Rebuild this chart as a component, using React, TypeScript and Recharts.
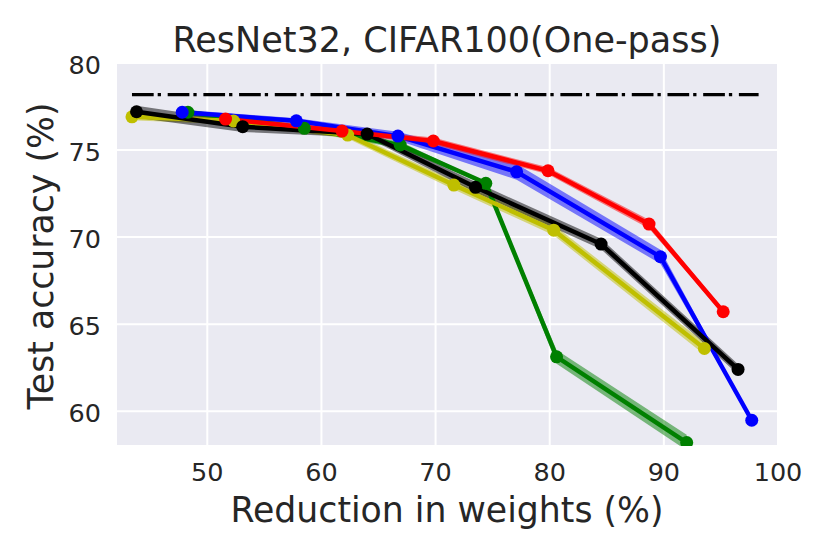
import React from "react";
import { ComposedChart, Line, Area, XAxis, YAxis, CartesianGrid } from "recharts";

// ---- data ----
const xTicks = [50, 60, 70, 80, 90, 100];
const yTicks = [60, 65, 70, 75, 80];

const baselineX = [43.4, 98.3];
const baselineY = [78.18, 78.18];

const blackX = [43.8, 53.1, 64.0, 73.5, 84.5, 96.5];
const blackY = [77.2, 76.34, 75.92, 72.86, 69.6, 62.4];
const blackStd = [0.35, 0.3, 0.2, 0.3, 0.3, 0.3];

const blueX = [47.8, 57.8, 66.7, 77.1, 89.7, 97.7];
const blueY = [77.17, 76.68, 75.8, 73.75, 68.87, 59.48];
const blueStd = [0.15, 0.15, 0.25, 0.45, 0.4, 0.05];

const greenX = [48.3, 58.5, 66.9, 74.4, 80.6, 92.0];
const greenY = [77.17, 76.25, 75.29, 73.09, 63.12, 58.2];
const greenStd = [0.15, 0.15, 0.2, 0.05, 0.4, 0.45];

const redX = [51.6, 61.8, 69.8, 79.85, 88.7, 95.2];
const redY = [76.78, 76.09, 75.52, 73.81, 70.75, 65.71];
const redStd = [0.2, 0.15, 0.2, 0.2, 0.25, 0.15];

const yellowX = [43.4, 52.3, 62.3, 71.6, 80.35, 93.55];
const yellowY = [76.91, 76.67, 75.86, 72.99, 70.4, 63.6];
const yellowStd = [0.2, 0.2, 0.2, 0.25, 0.3, 0.35];

const build = (xs: number[], ys: number[], sd?: number[]) =>
  xs.map((x, i) => ({
    x,
    y: ys[i],
    band: sd ? [ys[i] - sd[i], ys[i] + sd[i]] : undefined,
  }));

const baselineData = build(baselineX, baselineY);
const blackData = build(blackX, blackY, blackStd);
const blueData = build(blueX, blueY, blueStd);
const greenData = build(greenX, greenY, greenStd);
const redData = build(redX, redY, redStd);
const yellowData = build(yellowX, yellowY, yellowStd);

// ---- layout / style ----
const W = 830;
const H = 554;
const PLOT_LEFT = 116;
const PLOT_RIGHT = 778;
const PLOT_TOP = 63;
const PLOT_BOTTOM = 446;
const Y_AXIS_W = 100;
const X_AXIS_H = 40;
const FONT = "'DejaVu Sans', sans-serif";
const TEXT = "#262626";
const TICK_SIZE = 25.5;
const LABEL_SIZE = 34.7;

const XTick = (props: any) => {
  const { x, payload } = props;
  return (
    <text x={x} y={PLOT_BOTTOM + 35} textAnchor="middle" fontSize={TICK_SIZE} fill={TEXT} fontFamily={FONT}>
      {payload.value}
    </text>
  );
};

const YTick = (props: any) => {
  const { y, payload } = props;
  return (
    <text x={PLOT_LEFT - 15} y={y + 11} textAnchor="end" fontSize={TICK_SIZE} fill={TEXT} fontFamily={FONT}>
      {payload.value}
    </text>
  );
};

const series = [
  { data: greenData, color: "#008000" },
  { data: blueData, color: "#0000FF" },
  { data: yellowData, color: "#BFBF00" },
  { data: blackData, color: "#000000" },
  { data: redData, color: "#FF0000" },
];

export default function App() {
  return (
    <div style={{ position: "absolute", left: 0, top: 0, width: W, height: H, background: "#fff" }}>
      <ComposedChart
        width={W}
        height={H}
        margin={{
          top: PLOT_TOP,
          right: W - PLOT_RIGHT,
          bottom: H - PLOT_BOTTOM - X_AXIS_H,
          left: PLOT_LEFT - Y_AXIS_W,
        }}
      >
        <CartesianGrid fill="#EAEAF2" stroke="#FFFFFF" strokeWidth={2} />
        <XAxis
          dataKey="x"
          type="number"
          domain={[42, 100]}
          ticks={xTicks}
          allowDataOverflow
          axisLine={false}
          tickLine={false}
          height={X_AXIS_H}
          tick={<XTick />}
          interval={0}
        />
        <YAxis
          type="number"
          domain={[58, 80]}
          ticks={yTicks}
          allowDataOverflow
          axisLine={false}
          tickLine={false}
          width={Y_AXIS_W}
          tick={<YTick />}
          interval={0}
        />
        <Line
          data={baselineData}
          dataKey="y"
          type="linear"
          stroke="#000"
          strokeWidth={3.3}
          strokeDasharray="21.7 4 3.3 6.7"
          dot={false}
          isAnimationActive={false}
        />
        {series.map((s, i) => (
          <Area
            key={"a" + i}
            data={s.data}
            dataKey="band"
            type="linear"
            stroke="none"
            fill={s.color}
            fillOpacity={0.5}
            isAnimationActive={false}
          />
        ))}
        {series.map((s, i) => (
          <Line
            key={"l" + i}
            data={s.data}
            dataKey="y"
            type="linear"
            stroke={s.color}
            strokeWidth={4.5}
            dot={{ r: 6.5, fill: s.color, stroke: s.color, strokeWidth: 0 }}
            isAnimationActive={false}
          />
        ))}
      </ComposedChart>
      <svg
        width={W}
        height={H}
        style={{ position: "absolute", left: 0, top: 0, pointerEvents: "none" }}
      >
        <text x={447} y={52} textAnchor="middle" fontSize={35} fill={TEXT} fontFamily={FONT}>
          ResNet32, CIFAR100(One-pass)
        </text>
        <text x={447} y={521.7} textAnchor="middle" fontSize={LABEL_SIZE} fill={TEXT} fontFamily={FONT}>
          Reduction in weights (%)
        </text>
        <text
          transform="translate(52.7,256) rotate(-90)"
          textAnchor="middle"
          fontSize={LABEL_SIZE}
          fill={TEXT}
          fontFamily={FONT}
        >
          Test accuracy (%)
        </text>
      </svg>
    </div>
  );
}
